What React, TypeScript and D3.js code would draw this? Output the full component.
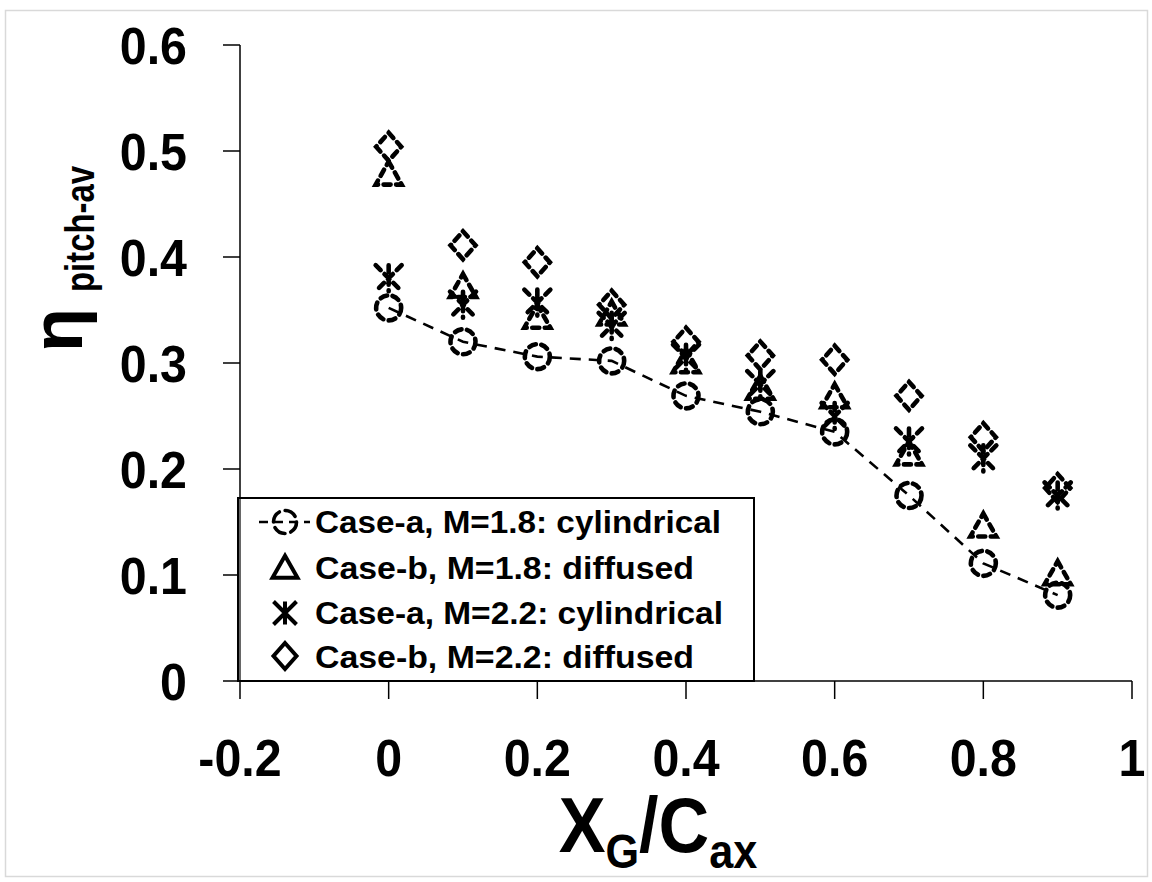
import React from "react";
import * as d3 from "d3";

const xPositions = [0, 0.1, 0.2, 0.3, 0.4, 0.5, 0.6, 0.7, 0.8, 0.9];
const caseA18 = [0.352, 0.32, 0.306, 0.302, 0.269, 0.254, 0.235, 0.175, 0.111, 0.081];
const caseB18 = [0.477, 0.371, 0.342, 0.345, 0.3, 0.275, 0.267, 0.213, 0.145, 0.1];
const caseA22 = [0.38, 0.355, 0.357, 0.335, 0.305, 0.28, 0.25, 0.226, 0.21, 0.175];
const caseB22 = [0.504, 0.411, 0.395, 0.355, 0.32, 0.307, 0.303, 0.269, 0.23, 0.182];
const xTicks = [-0.2, 0, 0.2, 0.4, 0.6, 0.8, 1];
const yTicks = [0, 0.1, 0.2, 0.3, 0.4, 0.5, 0.6];
const legendLabels = [
  "Case-a, M=1.8: cylindrical",
  "Case-b, M=1.8: diffused",
  "Case-a, M=2.2: cylindrical",
  "Case-b, M=2.2: diffused",
];
const legendWidths = [406, 379, 408, 379];

const FONT = "'Liberation Sans', Arial, sans-serif";

const x = d3.scaleLinear().domain([-0.2, 1]).range([240, 1132]);
const y = d3.scaleLinear().domain([0, 0.6]).range([681, 45]);

const circlePath = (cx: number, cy: number, r = 12.5) => {
  const p = d3.path();
  p.moveTo(cx + r, cy);
  p.arc(cx, cy, r, 0, Math.PI * 2);
  return p.toString();
};
const trianglePath = (cx: number, cy: number, w = 26, h = 23) =>
  `M${cx},${cy - h * 0.6}L${cx + w / 2},${cy + h * 0.4}L${cx - w / 2},${cy + h * 0.4}Z`;
const diamondPath = (cx: number, cy: number, w = 25, h = 28) =>
  `M${cx},${cy - h / 2}L${cx + w / 2},${cy}L${cx},${cy + h / 2}L${cx - w / 2},${cy}Z`;
const asteriskPath = (cx: number, cy: number, s = 13) =>
  `M${cx},${cy - s}L${cx},${cy + s}M${cx - s},${cy - s}L${cx + s},${cy + s}M${cx + s},${cy - s}L${cx - s},${cy + s}`;

const dashStyle = {
  fill: "none",
  stroke: "#000",
  strokeWidth: 4.6,
  strokeDasharray: "7 5.5",
  strokeLinecap: "round" as const,
};

export default function App() {
  const line = d3
    .line<number>()
    .x((_, i) => x(xPositions[i]))
    .y((d) => y(d));

  const legendRowsY = [533, 579, 624, 668];
  const legendMarkerX = 285;

  return (
    <svg
      width={1152}
      height={882}
      style={{ position: "absolute", left: 0, top: 0, background: "#fff" }}
    >
      <rect x={5.5} y={10.5} width={1142} height={866} fill="#fff" stroke="#d9d9d9" strokeWidth={1.5} />

      {/* axes */}
      <line x1={x(-0.2)} x2={x(-0.2)} y1={y(0.6)} y2={y(0)} stroke="#000" strokeWidth={1.5} />
      <line x1={x(-0.2)} x2={x(1)} y1={y(0)} y2={y(0)} stroke="#000" strokeWidth={1.5} />
      {yTicks.map((t) => (
        <g key={"yt" + t}>
          <line x1={x(-0.2) - 17} x2={x(-0.2)} y1={y(t)} y2={y(t)} stroke="#000" strokeWidth={1.5} />
          <text
            transform={`translate(187, ${y(t)}) scale(0.93, 1)`}
            dy="0.36em"
            textAnchor="end"
            fontFamily={FONT}
            fontWeight="bold"
            fontSize={52}
          >
            {t === 0 ? "0" : t.toFixed(1)}
          </text>
        </g>
      ))}
      {xTicks.map((t) => (
        <g key={"xt" + t}>
          <line x1={x(t)} x2={x(t)} y1={y(0)} y2={y(0) + 18} stroke="#000" strokeWidth={1.5} />
          <text
            transform={`translate(${x(t)}, 776) scale(0.93, 1)`}
            textAnchor="middle"
            fontFamily={FONT}
            fontWeight="bold"
            fontSize={52}
          >
            {t === 0 ? "0" : t === 1 ? "1" : t.toFixed(1)}
          </text>
        </g>
      ))}

      {/* dashed connecting line for Case-a M=1.8 */}
      <path d={line(caseA18) || ""} fill="none" stroke="#000" strokeWidth={2.6} strokeDasharray="11 8" />

      {/* markers */}
      {caseA18.map((v, i) => (
        <path key={"c" + i} d={circlePath(x(xPositions[i]), y(v))} {...dashStyle} />
      ))}
      {caseB18.map((v, i) => (
        <path key={"t" + i} d={trianglePath(x(xPositions[i]), y(v))} {...dashStyle} />
      ))}
      {caseA22.map((v, i) => (
        <path key={"a" + i} d={asteriskPath(x(xPositions[i]), y(v))} {...dashStyle} />
      ))}
      {caseB22.map((v, i) => (
        <path key={"d" + i} d={diamondPath(x(xPositions[i]), y(v))} {...dashStyle} />
      ))}

      {/* legend */}
      <rect x={238} y={498} width={516} height={183} fill="#fff" stroke="#000" strokeWidth={2} />
      <line x1={x(-0.2)} x2={x(-0.2)} y1={498} y2={681} stroke="#000" strokeWidth={1.2} />
      <g>
        <line x1={259} x2={310} y1={legendRowsY[0] - 11} y2={legendRowsY[0] - 11} stroke="#000" strokeWidth={2.5} strokeDasharray="9 6" />
        <path d={circlePath(legendMarkerX, legendRowsY[0] - 11, 11.5)} {...dashStyle} strokeWidth={3.6} strokeDasharray="12 6" />
      </g>
      <path d={trianglePath(legendMarkerX, legendRowsY[1] - 10, 25, 22)} fill="none" stroke="#000" strokeWidth={4} />
      <path d={asteriskPath(legendMarkerX, legendRowsY[2] - 11, 11.5)} fill="none" stroke="#000" strokeWidth={4} />
      <path d={diamondPath(legendMarkerX, legendRowsY[3] - 12, 23, 26)} fill="none" stroke="#000" strokeWidth={4} />
      {legendLabels.map((s, i) => (
        <text
          key={s}
          x={315}
          y={legendRowsY[i]}
          fontFamily={FONT}
          fontWeight="bold"
          fontSize={31}
          textLength={legendWidths[i]}
          lengthAdjust="spacingAndGlyphs"
        >
          {s}
        </text>
      ))}

      {/* y axis title */}
      <text
        transform="translate(82, 352) rotate(-90)"
        fontFamily={FONT}
        fontWeight="bold"
        fontSize={72}
      >
        η
      </text>
      <text
        transform="translate(94, 292) rotate(-90)"
        fontFamily={FONT}
        fontWeight="bold"
        fontSize={40}
        textLength={126}
        lengthAdjust="spacingAndGlyphs"
      >
        pitch-av
      </text>

      {/* x axis title */}
      <g transform="translate(658, 852) scale(0.9, 1)">
        <text x={0} y={0} textAnchor="middle" fontFamily={FONT} fontWeight="bold" fontSize={78}>
          X<tspan fontSize={48} dy={16}>G</tspan>
          <tspan dy={-16}>/C</tspan>
          <tspan fontSize={48} dy={16}>ax</tspan>
        </text>
      </g>
    </svg>
  );
}
